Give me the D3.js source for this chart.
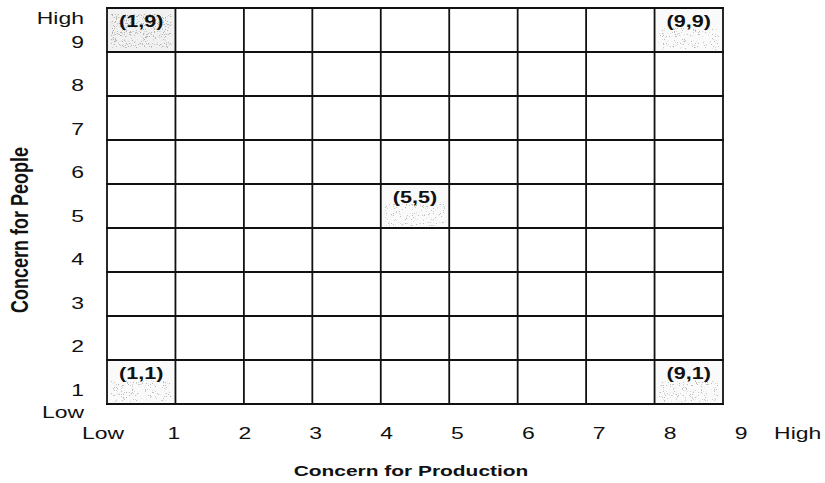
<!DOCTYPE html>
<html>
<head>
<meta charset="utf-8">
<script src="https://cdn.jsdelivr.net/npm/d3@7"></script>
<style>
  body { margin: 0; background: #fff; }
  svg { display: block; }
  text { font-family: "Liberation Sans", Arial, sans-serif; fill: #111; }
</style>
</head>
<body>
<svg id="chart"></svg>
<script>
// Chart size
const width = 825;
const height = 483;

// Data
const cols = [1, 2, 3, 4, 5, 6, 7, 8, 9];
const rows = [9, 8, 7, 6, 5, 4, 3, 2, 1];
const xTickLabels = ["Low", "1", "2", "3", "4", "5", "6", "7", "8", "9", "High"];
const yTickLabels = ["Low", "1", "2", "3", "4", "5", "6", "7", "8", "9", "High"];
const styleX = [1, 9, 5, 1, 9];
const styleY = [9, 9, 5, 1, 1];
const styleLabels = ["(1,9)", "(9,9)", "(5,5)", "(1,1)", "(9,1)"];
const styleDense = [true, false, false, false, false];
const xTitle = "Concern for Production";
const yTitle = "Concern for People";

// the scan is stretched sideways, so text gets stretched too
const stretch = 1.35;

const svg = d3.select("#chart")
    .attr("width", width)
    .attr("height", height);

// speckled shading filters
const defs = svg.append("defs");
function speckle(id, bias, grey) {
    const f = defs.append("filter").attr("id", id)
        .attr("x", 0).attr("y", 0).attr("width", 1).attr("height", 1);
    f.append("feTurbulence")
        .attr("type", "fractalNoise")
        .attr("baseFrequency", 0.9)
        .attr("numOctaves", 2)
        .attr("seed", 5);
    f.append("feColorMatrix")
        .attr("type", "matrix")
        .attr("values", `0 0 0 0 ${grey}  0 0 0 0 ${grey}  0 0 0 0 ${grey}  -14 0 0 0 ${bias}`);
    f.append("feComposite").attr("operator", "in").attr("in2", "SourceGraphic");
}
speckle("speckleLight", 5.1, 0.5);
speckle("speckleDense", 5.7, 0.45);

// Grid scales
const x = d3.scaleBand().domain(cols).range([107, 723]);
const y = d3.scaleBand().domain(rows).range([8, 404]);

// Tick label scales (labels are not aligned to grid lines in the original)
const xLab = d3.scaleLinear().domain([0, 9]).range([103, 741]);
const yLab = d3.scaleLinear().domain([1, 9]).range([390, 42]);

// Shaded style cells
const styles = styleLabels.map((label, i) => ({
    x: styleX[i], y: styleY[i], label, dense: styleDense[i]
}));

const cells = svg.append("g").selectAll("g")
    .data(styles)
    .join("g");

cells.append("rect")
    .attr("x", d => x(d.x))
    .attr("y", d => y(d.y))
    .attr("width", x.bandwidth())
    .attr("height", y.bandwidth())
    .attr("fill", d => d.dense ? "#f1f1f1" : "#fafafa");

cells.append("rect")
    .attr("x", d => x(d.x) + 4)
    .attr("y", d => y(d.y) + (d.dense ? 6 : y.bandwidth() * 0.45))
    .attr("width", x.bandwidth() - 8)
    .attr("height", d => d.dense ? y.bandwidth() - 10 : y.bandwidth() * 0.5)
    .attr("fill", "#fff")
    .attr("filter", d => d.dense ? "url(#speckleDense)" : "url(#speckleLight)");

cells.append("text")
    .attr("transform", d => `translate(${x(d.x) + x.bandwidth() / 2},${y(d.y) + 14}) scale(${stretch},1)`)
    .attr("text-anchor", "middle")
    .attr("dominant-baseline", "central")
    .attr("font-size", 16)
    .attr("font-weight", "bold")
    .text(d => d.label);

// Grid lines
const grid = svg.append("g")
    .attr("stroke", "#111")
    .attr("stroke-width", 1.8);

grid.selectAll("line.v")
    .data(d3.range(cols.length + 1))
    .join("line")
    .attr("class", "v")
    .attr("x1", i => x.range()[0] + i * x.step())
    .attr("x2", i => x.range()[0] + i * x.step())
    .attr("y1", y.range()[0])
    .attr("y2", y.range()[1]);

grid.selectAll("line.h")
    .data(d3.range(rows.length + 1))
    .join("line")
    .attr("class", "h")
    .attr("y1", i => y.range()[0] + i * y.step())
    .attr("y2", i => y.range()[0] + i * y.step())
    .attr("x1", x.range()[0] - 1)
    .attr("x2", x.range()[1] + 1);

// X tick labels
svg.append("g").selectAll("text")
    .data(xTickLabels)
    .join("text")
    .attr("transform", (d, i) => {
        const pos = i === xTickLabels.length - 1 ? xLab(9.8) : xLab(i);
        return `translate(${pos},433) scale(${stretch},1)`;
    })
    .attr("text-anchor", "middle")
    .attr("dominant-baseline", "central")
    .attr("font-size", 17)
    .text(d => d);

// Y tick labels
svg.append("g").selectAll("text")
    .data(yTickLabels)
    .join("text")
    .attr("transform", (d, i) => {
        let v = i;
        if (i === 0) v = 0.5;
        if (i === yTickLabels.length - 1) v = 9.55;
        return `translate(84,${yLab(v)}) scale(${stretch},1)`;
    })
    .attr("text-anchor", "end")
    .attr("dominant-baseline", "central")
    .attr("font-size", 17)
    .text(d => d);

// Axis titles
svg.append("text")
    .attr("transform", `translate(411,471) scale(${stretch},1)`)
    .attr("text-anchor", "middle")
    .attr("dominant-baseline", "central")
    .attr("font-size", 15.5)
    .attr("font-weight", "bold")
    .text(xTitle);

svg.append("text")
    .attr("transform", `translate(20,230) scale(${stretch},1) rotate(-90)`)
    .attr("text-anchor", "middle")
    .attr("dominant-baseline", "central")
    .attr("font-size", 18)
    .attr("font-weight", "bold")
    .text(yTitle);
</script>
</body>
</html>
